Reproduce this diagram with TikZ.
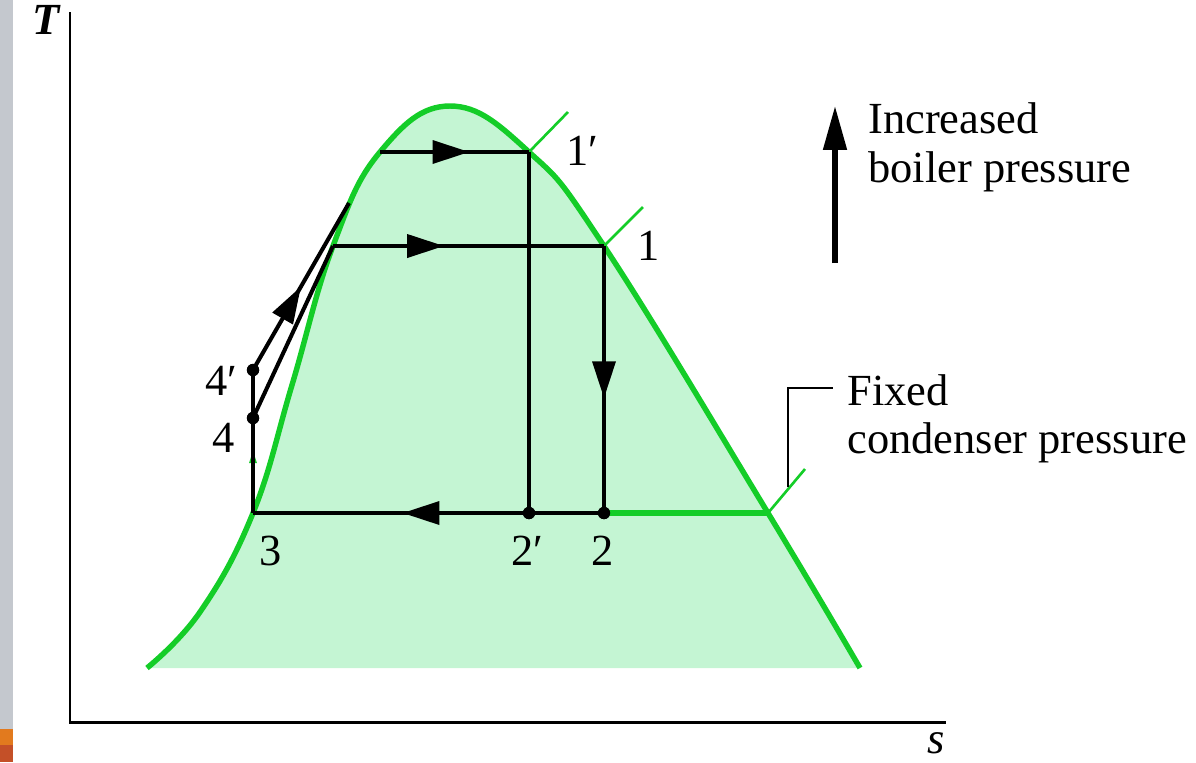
\documentclass[tikz,border=0pt]{standalone}
\usepackage{fontspec}
\setmainfont{Liberation Serif}
\usetikzlibrary{arrows.meta,decorations.markings}
\definecolor{dome}{RGB}{20,205,40}
\definecolor{domefill}{RGB}{196,245,211}
\definecolor{stripgray}{RGB}{196,200,206}
\definecolor{striporange}{RGB}{226,122,30}
\definecolor{stripred}{RGB}{196,80,40}
\begin{document}
\begin{tikzpicture}[x=0.02cm,y=-0.02cm,
  lbl/.style={font=\fontsize{25.3}{27.5}\selectfont, inner sep=0pt, anchor=base west},
  cyc/.style={line width=2.3pt, black},
  domeline/.style={line width=3.1pt, dome},
  tick/.style={line width=1.5pt, dome},
  dot/.style={circle, fill=black, inner sep=0pt, minimum size=7pt},
  midarrow/.style={postaction={decorate}, decoration={markings,
     mark=at position #1 with {\arrow{Triangle[length=21pt,width=13pt]}}}}
]
\useasboundingbox (0,0) rectangle (1196,762);
% left background strip
\fill[stripgray] (0,0) rectangle (13,729);
\fill[striporange] (0,729) rectangle (13,745);
\fill[stripred] (0,745) rectangle (13,762);

% axes
\coordinate (ytop) at (70,12);
\coordinate (orig) at (70,722);
\coordinate (xend) at (946,722);
\draw[line width=1.7pt] (ytop) -- (orig) -- (xend);
\node[lbl, font=\fontsize{25.3}{27.5}\selectfont\bfseries\itshape] (Tlab) at (32,34) {T};
\node[lbl, font=\fontsize{25.3}{27.5}\selectfont\itshape] (slab) at (927,753) {s};

% dome
\def\domepts{(147,668) (200,612) (253,513) (292,385) (333,246) (380,152) (450,106) (529,152) (604,246) (768,513) (860,668)}
\fill[domefill] plot[smooth, tension=0.7] coordinates {\domepts} -- (860,668) -- (147,668) -- cycle;
\draw[domeline] plot[smooth, tension=0.7] coordinates {\domepts};

% key points
\coordinate (s3) at (253,513);
\coordinate (f1) at (333,246);
\coordinate (g1p) at (349,203);
\coordinate (f1p) at (380,152);
\coordinate (s1p) at (529,152);
\coordinate (s1) at (604,246);
\coordinate (gsat) at (768,513);
\node[dot] (p4p) at (253,370) {};
\node[dot] (p4) at (253,418) {};
\node[dot] (s2p) at (529,513) {};
\node[dot] (s2) at (604,513) {};

% green condenser line and ticks
\draw[domeline] (s2.center) -- (gsat);
\coordinate (t1p) at (568,112);
\coordinate (t1) at (643,207);
\coordinate (tc) at (805,469);
\draw[tick] (s1p) -- (t1p);
\draw[tick] (s1) -- (t1);
\draw[tick] (gsat) -- (tc);
% small green mark
\fill[dome] (249,463) -- (257,463) -- (253,451) -- cycle;

% cycle lines
\draw[cyc] (s3) -- (p4.center) -- (p4p.center);
\draw[cyc] (p4.center) -- (f1);
\draw[cyc, midarrow=0.5] (p4p.center) -- (g1p);
\draw[cyc, midarrow=0.6] (f1p) -- (s1p);
\draw[cyc] (s1p) -- (s2p.center);
\draw[cyc, midarrow=0.41] (f1) -- (s1);
\draw[cyc, midarrow=0.57] (s1) -- (s2.center);
\draw[cyc, midarrow=0.574] (s2.center) -- (s3);
\node[dot] at (p4p) {};
\node[dot] at (p4) {};
\node[dot] at (s2p) {};
\node[dot] at (s2) {};

% state labels
\node[lbl] (l1p) at (566,165) {1\char"2032};
\node[lbl] (l1) at (637,260) {1};
\node[lbl] (l2p) at (511,565) {2\char"2032};
\node[lbl] (l2) at (591,565) {2};
\node[lbl] (l3) at (259,565) {3};
\node[lbl] (l4p) at (205,395) {4\char"2032};
\node[lbl] (l4) at (212,452) {4};

% boiler pressure arrow and text
\coordinate (ba) at (835,263);
\coordinate (bb) at (835,106);
\draw[line width=3pt, -{Triangle[length=25pt,width=13pt]}] (ba) -- (bb);
\node[lbl] (inc1) at (868,133) {Increased};
\node[lbl] (inc2) at (868,182) {boiler pressure};

% condenser leader and text
\coordinate (c0) at (788,487);
\coordinate (c1) at (788,388);
\coordinate (c2) at (833,388);
\draw[line width=0.8pt] (c0) -- (c1) -- (c2);
\node[lbl] (fx1) at (847,405) {Fixed};
\node[lbl] (fx2) at (847,453) {condenser pressure};
\end{tikzpicture}
\end{document}
